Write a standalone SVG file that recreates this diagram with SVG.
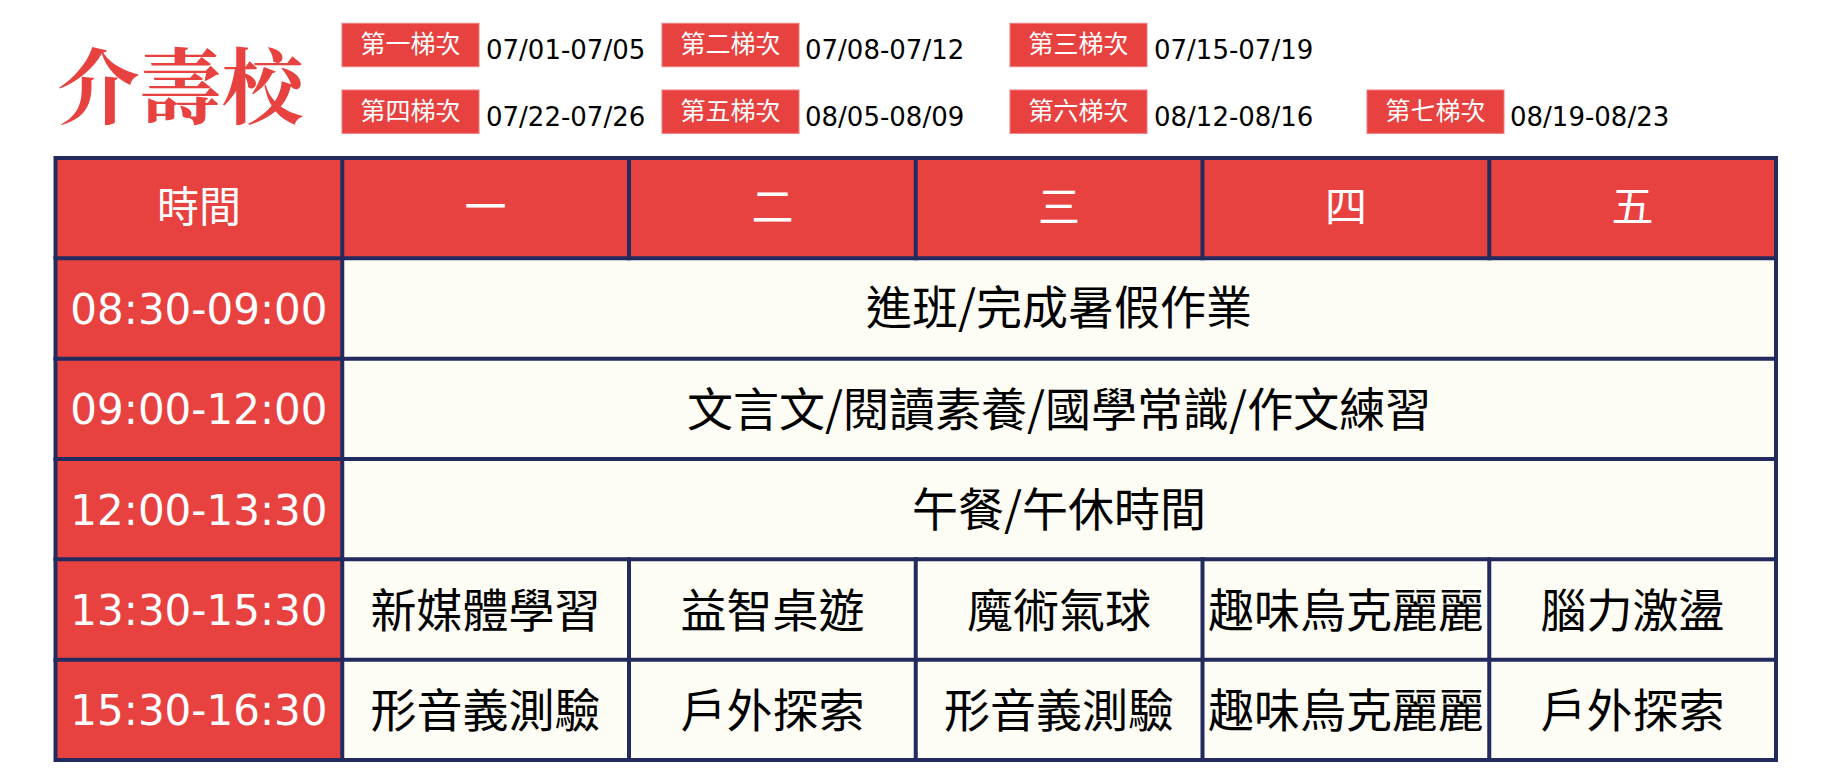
<svg xmlns="http://www.w3.org/2000/svg" width="1832" height="774" viewBox="0 0 1832 774">
<style>
.red{fill:#e84240}
.cream{fill:#fefdf5}
.grid{stroke:#232a5e;stroke-width:4;fill:none;stroke-linecap:square}
.cjk{font-family:"Noto Sans CJK TC","Noto Sans CJK SC",sans-serif}
.wt{fill:#ffffff;font-size:42px;text-anchor:middle}
.tm{fill:#ffffff;font-family:"DejaVu Sans",sans-serif;font-size:42px;text-anchor:middle}
.bt{fill:#000000;font-size:46px;text-anchor:middle}
.tagbox{fill:#e84240;stroke:#f07c7c;stroke-width:1}
.lbl{fill:#ffffff;font-size:25px;text-anchor:middle}
.date{fill:#000000;font-family:"DejaVu Sans",sans-serif;font-size:26px;text-anchor:start}
.title{fill:#e84240;font-family:"Noto Serif CJK TC","Noto Sans CJK TC",serif;font-size:82px;font-weight:700;text-anchor:middle}
</style>
<rect width="1832" height="774" fill="#ffffff"/>

<g id="title"><text class="title" x="180.5" y="117">介壽校</text></g>

<g id="batch1"><rect class="tagbox" x="342" y="23.3" width="137" height="43.4"/><text class="cjk lbl" x="410.5" y="53.3">第一梯次</text><text class="date" x="486" y="59.3">07/01-07/05</text></g>
<g id="batch2"><rect class="tagbox" x="662" y="23.3" width="137" height="43.4"/><text class="cjk lbl" x="730.5" y="53.3">第二梯次</text><text class="date" x="805" y="59.3">07/08-07/12</text></g>
<g id="batch3"><rect class="tagbox" x="1010" y="23.3" width="137" height="43.4"/><text class="cjk lbl" x="1078.5" y="53.3">第三梯次</text><text class="date" x="1154" y="59.3">07/15-07/19</text></g>
<g id="batch4"><rect class="tagbox" x="342" y="90" width="137" height="43.4"/><text class="cjk lbl" x="410.5" y="120">第四梯次</text><text class="date" x="486" y="125.8">07/22-07/26</text></g>
<g id="batch5"><rect class="tagbox" x="662" y="90" width="137" height="43.4"/><text class="cjk lbl" x="730.5" y="120">第五梯次</text><text class="date" x="805" y="125.8">08/05-08/09</text></g>
<g id="batch6"><rect class="tagbox" x="1010" y="90" width="137" height="43.4"/><text class="cjk lbl" x="1078.5" y="120">第六梯次</text><text class="date" x="1154" y="125.8">08/12-08/16</text></g>
<g id="batch7"><rect class="tagbox" x="1367" y="90" width="137" height="43.4"/><text class="cjk lbl" x="1435.5" y="120">第七梯次</text><text class="date" x="1510" y="125.8">08/19-08/23</text></g>

<g id="backgrounds">
<rect class="red" x="55.5" y="158" width="1720.5" height="100.33"/>
<rect class="red" x="55.5" y="258.33" width="286.75" height="501.67"/>
<rect class="cream" x="342.25" y="258.33" width="1433.75" height="501.67"/>
</g>

<g id="header">
<g id="h-time"><text class="cjk wt" x="198.9" y="222">時間</text></g>
<g id="h-mon"><text class="cjk wt" x="485.6" y="222">一</text></g>
<g id="h-tue"><text class="cjk wt" x="772.4" y="222">二</text></g>
<g id="h-wed"><text class="cjk wt" x="1059.1" y="222">三</text></g>
<g id="h-thu"><text class="cjk wt" x="1345.9" y="222">四</text></g>
<g id="h-fri"><text class="cjk wt" x="1632.6" y="222">五</text></g>
</g>

<g id="times">
<g id="t1"><text class="tm" x="198.9" y="323.8">08:30-09:00</text></g>
<g id="t2"><text class="tm" x="198.9" y="424.1">09:00-12:00</text></g>
<g id="t3"><text class="tm" x="198.9" y="524.5">12:00-13:30</text></g>
<g id="t4"><text class="tm" x="198.9" y="624.8">13:30-15:30</text></g>
<g id="t5"><text class="tm" x="198.9" y="725.1">15:30-16:30</text></g>
</g>

<g id="merged">
<g id="r1"><text class="cjk bt" x="1059.1" y="324">進班/完成暑假作業</text></g>
<g id="r2"><text class="cjk bt" x="1059.1" y="425.5">文言文/閱讀素養/國學常識/作文練習</text></g>
<g id="r3"><text class="cjk bt" x="1059.1" y="526">午餐/午休時間</text></g>
</g>

<g id="row4">
<g id="r4c1"><text class="cjk bt" x="485.6" y="626.5">新媒體學習</text></g>
<g id="r4c2"><text class="cjk bt" x="772.4" y="626.5">益智桌遊</text></g>
<g id="r4c3"><text class="cjk bt" x="1059.1" y="626.5">魔術氣球</text></g>
<g id="r4c4"><text class="cjk bt" x="1345.9" y="626.5">趣味烏克麗麗</text></g>
<g id="r4c5"><text class="cjk bt" x="1632.6" y="626.5">腦力激盪</text></g>
</g>
<g id="row5">
<g id="r5c1"><text class="cjk bt" x="485.6" y="727">形音義測驗</text></g>
<g id="r5c2"><text class="cjk bt" x="772.4" y="727">戶外探索</text></g>
<g id="r5c3"><text class="cjk bt" x="1059.1" y="727">形音義測驗</text></g>
<g id="r5c4"><text class="cjk bt" x="1345.9" y="727">趣味烏克麗麗</text></g>
<g id="r5c5"><text class="cjk bt" x="1632.6" y="727">戶外探索</text></g>
</g>

<g id="gridlines" class="grid">
<rect x="55.5" y="158" width="1720.5" height="602"/>
<path d="M55.5 258.33H1776M55.5 358.67H1776M55.5 459H1776M55.5 559.33H1776M55.5 659.67H1776"/>
<path d="M342.25 158V760"/>
<path d="M629 158V258.33M915.75 158V258.33M1202.5 158V258.33M1489.25 158V258.33"/>
<path d="M629 559.33V760M915.75 559.33V760M1202.5 559.33V760M1489.25 559.33V760"/>
</g>
</svg>
